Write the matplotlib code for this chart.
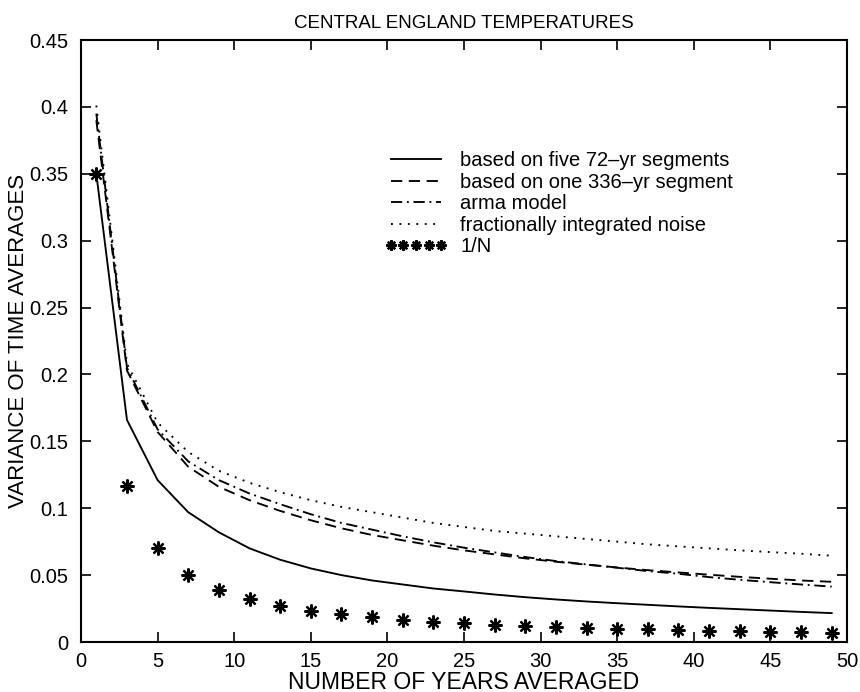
import matplotlib
matplotlib.use("Agg")
import matplotlib.pyplot as plt

plt.rcParams['font.family'] = ['Liberation Sans', 'DejaVu Sans']

N = [1, 3, 5, 7, 9, 11, 13, 15, 17, 19, 21, 23, 25, 27, 29, 31, 33, 35, 37, 39, 41, 43, 45, 47, 49]

five_72yr = [0.350, 0.166, 0.121, 0.097, 0.082, 0.070, 0.0615, 0.055, 0.050, 0.046, 0.043, 0.040,
             0.0378, 0.0355, 0.0335, 0.0318, 0.0303, 0.029, 0.0278, 0.0266, 0.0255, 0.0245, 0.0235,
             0.0225, 0.0216]
one_336yr = [0.390, 0.203, 0.157, 0.131, 0.116, 0.106, 0.098, 0.091, 0.085, 0.080, 0.076, 0.072,
             0.0685, 0.0655, 0.0625, 0.060, 0.0578, 0.0557, 0.0537, 0.052, 0.0503, 0.0487, 0.0473,
             0.046, 0.045]
arma = [0.395, 0.205, 0.159, 0.135, 0.121, 0.111, 0.103, 0.0955, 0.089, 0.084, 0.079, 0.0745,
        0.0705, 0.067, 0.0635, 0.0605, 0.058, 0.0555, 0.053, 0.051, 0.0485, 0.0465, 0.0447,
        0.043, 0.0414]
frac_noise = [0.401, 0.208, 0.164, 0.142, 0.128, 0.119, 0.112, 0.106, 0.101, 0.097, 0.093, 0.089,
              0.086, 0.083, 0.081, 0.079, 0.077, 0.075, 0.073, 0.0715, 0.070, 0.0685, 0.0672,
              0.066, 0.0645]
one_over_n = [0.350, 0.1167, 0.070, 0.050, 0.0389, 0.0318, 0.0269, 0.0233, 0.0206, 0.0184, 0.0167,
              0.0152, 0.014, 0.013, 0.0121, 0.0113, 0.0106, 0.010, 0.0095, 0.009, 0.0085, 0.0081,
              0.0078, 0.0074, 0.0071]

labels = ['based on five 72\u2013yr segments', 'based on one 336\u2013yr segment', 'arma model',
          'fractionally integrated noise', '1/N']

fig = plt.figure(figsize=(8.6, 6.92), dpi=100)
ax = fig.add_axes([81/860, 1 - 642/692, 766/860, 602/692])

lw = 1.35
ax.plot(N, five_72yr, color='black', lw=lw, linestyle='-', label=labels[0])
ax.plot(N, one_336yr, color='black', lw=lw, linestyle=(0, (6, 3.5)), label=labels[1])
ax.plot(N, arma, color='black', lw=lw, linestyle=(0, (6, 2.5, 1, 2.5)), label=labels[2])
ax.plot(N, frac_noise, color='black', lw=lw, linestyle=(0, (1, 3.5)), label=labels[3])
ax.plot(N, one_over_n, color='black', linestyle='none', marker=(8, 2, 0), markersize=10,
        markeredgewidth=1.6, label=labels[4])

ax.set_xlim(0, 50)
ax.set_ylim(0, 0.45)
ax.set_xticks(range(0, 51, 5))
ax.set_yticks([0, 0.05, 0.1, 0.15, 0.2, 0.25, 0.3, 0.35, 0.4, 0.45])
ax.set_yticklabels(['0', '0.05', '0.1', '0.15', '0.2', '0.25', '0.3', '0.35', '0.4', '0.45'])
ax.tick_params(direction='in', top=True, right=True, length=7, width=1.2, labelsize=14.5)
ax.tick_params(axis='y', pad=9)
ax.tick_params(axis='x', pad=7)
for s in ax.spines.values():
    s.set_linewidth(1.5)

ax.set_title('CENTRAL ENGLAND TEMPERATURES', fontsize=13.5, pad=9)
ax.set_xlabel('NUMBER OF YEARS AVERAGED', fontsize=16.5, labelpad=0)
ax.set_ylabel('VARIANCE OF TIME AVERAGES', fontsize=16, labelpad=0)

leg = ax.legend(loc='upper left', bbox_to_anchor=(0.373, 0.845), frameon=False, fontsize=14.5,
                handlelength=3.1, handletextpad=0.65, labelspacing=0.12, numpoints=5,
                markerscale=0.75)

fig.savefig('out.png', dpi=100)
